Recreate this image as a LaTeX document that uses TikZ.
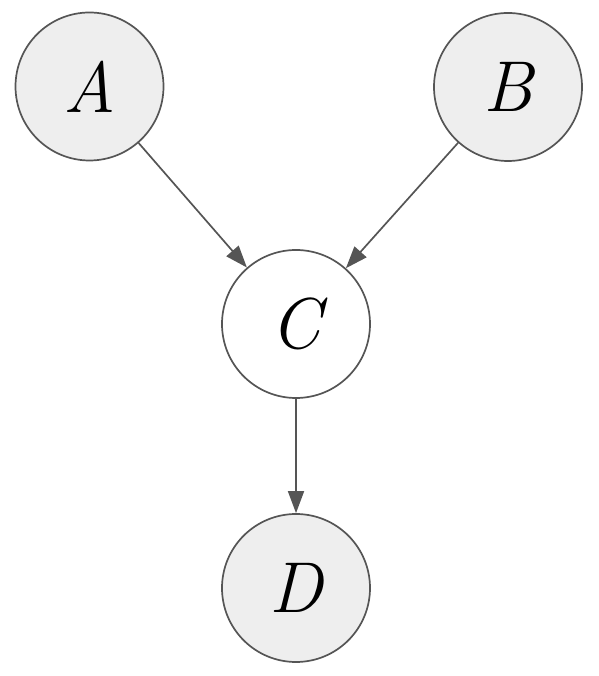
\documentclass[tikz,border=0pt]{standalone}
\usetikzlibrary{arrows.meta}
\definecolor{edgegray}{HTML}{555555}
\definecolor{obsfill}{HTML}{EEEEEE}
\tikzset{
  varnode/.style={circle, draw=edgegray, line width=1.7pt, minimum size=148pt, inner sep=0pt,
    font=\fontsize{72}{80}\selectfont\itshape},
  observed/.style={varnode, fill=obsfill},
  latent/.style={varnode, fill=white},
  link/.style={draw=edgegray, line width=1.7pt, -{Triangle[length=22pt,width=16pt]}}
}
\begin{document}
\begin{tikzpicture}[x=1pt,y=1pt]
\useasboundingbox (0,0) rectangle (598,676);
\node[observed] (A) at (89.5,589.5) {A};
\node[observed] (B) at (508,589) {B};
\node[latent] (C) at (296,352) {C};
\node[observed] (D) at (296,88) {D};
\draw[link] (A) -- (C);
\draw[link] (B) -- (C);
\draw[link] (C) -- (D);
\end{tikzpicture}
\end{document}
